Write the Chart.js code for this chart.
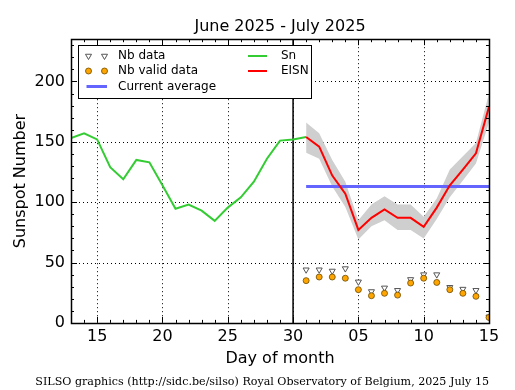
<!DOCTYPE html>
<html><head><meta charset="utf-8">
<script src="https://cdn.jsdelivr.net/npm/chart.js@4/dist/chart.umd.min.js"></script>
<style>html,body{margin:0;padding:0;background:#fff;}#wrap{width:515px;height:390px;}</style>
</head><body><div id="wrap"><canvas id="c" width="515" height="390"></canvas></div>
<script>
// ---- data ----
const snDays = [13,14,15,16,17,18,19,20,21,22,23,24,25,26,27,28,29,30,31];
const snValues = [153,157,152,129,119,135,133,114,94.5,98,93,84.5,95.5,104,117,136,151,152,154];
const eisnDays = [31,32,33,34,35,36,37,38,39,40,41,42,43,44,45];
const eisnValues = [154,146,122,107,77,87,94,87,87,79.5,95.5,114,127,140.5,179];
const eisnUpper = [166,157,135,117,85,98,105,98,98,88,103,127,138,149,190];
const eisnLower = [141,136,113,96,69,80,85,77,77,70,86,104,118,132,166];
const nbData = [44,44,43,45,34,26,29,27,36,40,40,29.5,28,27,5];
const nbValidData = [35,38,38,37,27.5,22.5,24.5,23,33,37,33.5,27.5,24.5,22,4.5];
const currentAverage = 113;
const separatorDay = 30;
const xTickValues = [15,20,25,30,35,40,45];
const xTickLabels = ['15','20','25','30','05','10','15'];
const yTickValues = [0,50,100,150,200];
const xMin = 13, xMax = 45, yMin = 0, yMax = 235;
const titleText = 'June 2025 - July 2025';
const footerText = 'SILSO graphics (http://sidc.be/silso) Royal Observatory of Belgium, 2025 July 15';

const pts = (xs, ys) => xs.map((d, i) => ({x: d, y: ys[i]}));

Chart.defaults.font.family = '"DejaVu Sans"';
Chart.defaults.color = '#000';

const datasets = [
  {label:'Nb valid data', data: pts(eisnDays, nbValidData), showLine:false, pointStyle:'circle', pointRadius:3, pointBackgroundColor:'#ffa500', pointBorderColor:'#6b4a00', pointBorderWidth:0.8, order:0},
  {label:'Nb data', data: pts(eisnDays, nbData), showLine:false, pointStyle:'triangle', pointRotation:180, pointRadius:3.5, pointBackgroundColor:'#ffffff', pointBorderColor:'#555555', pointBorderWidth:1, order:1},
  {label:'EISN', data: pts(eisnDays, eisnValues), borderColor:'#ff0000', borderWidth:2, pointRadius:0, tension:0, order:2},
  {label:'Current average', data: pts([eisnDays[0], eisnDays[eisnDays.length-1]], [currentAverage, currentAverage]), borderColor:'#6464ff', borderWidth:3, pointRadius:0, order:3},
  {label:'Sn', data: pts(snDays, snValues), borderColor:'#33cc33', borderWidth:2, pointRadius:0, tension:0, order:4},
  {label:'sep', data: pts([separatorDay, separatorDay], [yMin, yMax]), borderColor:'#000000', borderWidth:1.5, pointRadius:0, order:5},
  {label:'upper', data: pts(eisnDays, eisnUpper), borderWidth:0, borderColor:'rgba(0,0,0,0)', pointRadius:0, fill:'+1', backgroundColor:'#cfcfcf', order:6},
  {label:'lower', data: pts(eisnDays, eisnLower), borderWidth:0, borderColor:'rgba(0,0,0,0)', pointRadius:0, fill:false, order:7}
];

function line(ctx, x1, y1, x2, y2){ ctx.beginPath(); ctx.moveTo(x1,y1); ctx.lineTo(x2,y2); ctx.stroke(); }

const framePlugin = {
  id: 'frame',
  beforeDatasetsDraw(chart){
    const {ctx, chartArea:a, scales:{x, y}} = chart;
    ctx.save();
    ctx.strokeStyle = '#000'; ctx.lineWidth = 1; ctx.setLineDash([1,3]);
    xTickValues.forEach(v => { if (v <= xMin || v >= xMax) return; const px = Math.round(x.getPixelForValue(v)) + 0.5; line(ctx, px, a.top, px, a.bottom); });
    yTickValues.forEach(v => { if (v <= yMin || v >= yMax) return; const py = Math.round(y.getPixelForValue(v)) + 0.5; line(ctx, a.left, py, a.right, py); });
    ctx.restore();
  },
  afterDatasetsDraw(chart){
    const {ctx, chartArea:a, scales:{x, y}} = chart;
    ctx.save();
    ctx.strokeStyle = '#000'; ctx.lineWidth = 1; ctx.setLineDash([]);
    for (let v = xMin; v <= xMax; v++) {
      const major = xTickValues.includes(v); const L = major ? 6 : 3;
      const px = Math.round(x.getPixelForValue(v)) + 0.5;
      line(ctx, px, a.bottom, px, a.bottom - L); line(ctx, px, a.top, px, a.top + L);
    }
    for (let v = yMin; v <= yMax; v += 10) {
      const major = yTickValues.includes(v); const L = major ? 6 : 3;
      const py = Math.round(y.getPixelForValue(v)) + 0.5;
      line(ctx, a.left, py, a.left + L, py); line(ctx, a.right, py, a.right - L, py);
    }
    ctx.lineWidth = 1.5;
    ctx.strokeRect(Math.round(a.left)+0.5, Math.round(a.top)+0.5, Math.round(a.right-a.left), Math.round(a.bottom-a.top));
    // legend
    const ds = chart.data.datasets;
    const get = l => ds.find(d => d.label === l);
    const bx = 78.5, by = 45.5, bw = 233, bh = 53;
    ctx.lineWidth = 1;
    ctx.fillStyle = '#fff'; ctx.fillRect(bx, by, bw, bh); ctx.strokeRect(bx, by, bw, bh);
    ctx.font = '12px "DejaVu Sans"'; ctx.textBaseline = 'middle'; ctx.textAlign = 'left';
    const rows = [56, 71, 86.5];
    const mx = [88.5, 104.5];
    const tri = get('Nb data');
    mx.forEach(cx => {
      const r = tri.pointRadius; ctx.beginPath();
      for (let k = 0; k < 3; k++) { const ang = Math.PI + k * 2 * Math.PI / 3; const px = cx + Math.sin(ang) * r, py = rows[0] - Math.cos(ang) * r; k ? ctx.lineTo(px, py) : ctx.moveTo(px, py); }
      ctx.closePath(); ctx.fillStyle = tri.pointBackgroundColor; ctx.fill(); ctx.strokeStyle = tri.pointBorderColor; ctx.stroke();
    });
    const circ = get('Nb valid data');
    mx.forEach(cx => { ctx.beginPath(); ctx.arc(cx, rows[1], circ.pointRadius, 0, 2*Math.PI); ctx.fillStyle = circ.pointBackgroundColor; ctx.fill(); ctx.strokeStyle = circ.pointBorderColor; ctx.lineWidth = circ.pointBorderWidth; ctx.stroke(); });
    const avg = get('Current average');
    ctx.strokeStyle = avg.borderColor; ctx.lineWidth = avg.borderWidth; line(ctx, 86.5, rows[2], 107, rows[2]);
    const sn = get('Sn'), ei = get('EISN');
    ctx.strokeStyle = sn.borderColor; ctx.lineWidth = sn.borderWidth; line(ctx, 248, rows[0], 267, rows[0]);
    ctx.strokeStyle = ei.borderColor; ctx.lineWidth = ei.borderWidth; line(ctx, 248, rows[1], 267, rows[1]);
    ctx.fillStyle = '#000';
    ctx.fillText(tri.label, 118, rows[0]);
    ctx.fillText(circ.label, 118, rows[1]);
    ctx.fillText(avg.label, 118, rows[2]);
    ctx.fillText(sn.label, 281, rows[0]);
    ctx.fillText(ei.label, 281, rows[1]);
    ctx.restore();
  }
};

new Chart(document.getElementById('c'), {
  type: 'line',
  data: { datasets },
  plugins: [framePlugin],
  options: {
    responsive: false, animation: false, devicePixelRatio: 1,
    layout: { padding: { left: 0, right: 26, top: 0, bottom: 0 } },
    plugins: {
      legend: { display: false },
      tooltip: { enabled: false },
      title: { display: true, text: titleText, fullSize: false, font: { size: 16, weight: 'normal' }, padding: { top: 17, bottom: 3 }, color: '#000' },
      subtitle: { display: true, text: footerText, position: 'bottom', align: 'end', fullSize: true, font: { family: '"DejaVu Serif"', size: 11.1, weight: 'normal' }, padding: { top: 4, bottom: 1 }, color: '#000' }
    },
    scales: {
      x: {
        type: 'linear', min: xMin, max: xMax,
        grid: { display: false, drawTicks: false }, border: { display: false },
        ticks: { font: { size: 16 }, padding: 4, maxRotation: 0, callback: (v) => { const i = xTickValues.indexOf(v); return i >= 0 ? xTickLabels[i] : ''; } },
        afterBuildTicks: s => { s.ticks = xTickValues.map(v => ({ value: v })); },
        afterFit: s => { s.height = 48.8; },
        title: { display: true, text: 'Day of month', font: { size: 16 }, padding: { top: 0, bottom: 3.5 } }
      },
      y: {
        type: 'linear', min: yMin, max: yMax,
        grid: { display: false, drawTicks: false }, border: { display: false },
        ticks: { font: { size: 16 }, padding: 6 },
        afterBuildTicks: s => { s.ticks = yTickValues.map(v => ({ value: v })); },
        afterFit: s => { s.width = 71; },
        title: { display: true, text: 'Sunspot Number', font: { size: 16 }, padding: { top: 11, bottom: 0 } }
      }
    }
  }
});
</script></body></html>
